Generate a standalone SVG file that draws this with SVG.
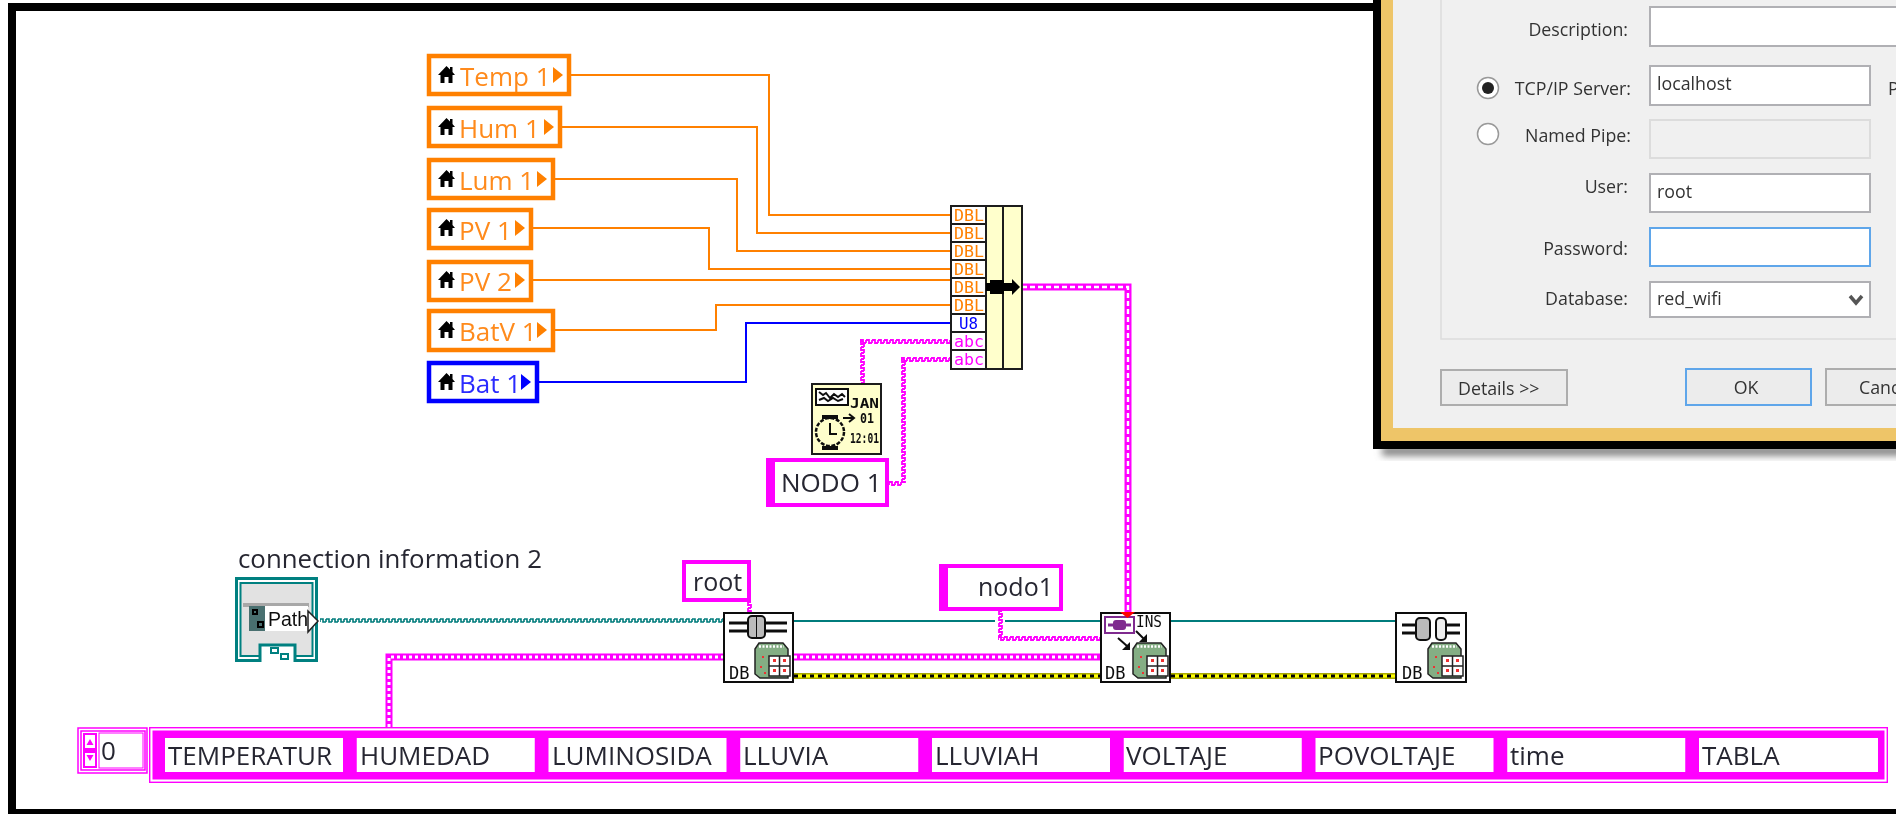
<svg xmlns="http://www.w3.org/2000/svg" width="1896" height="814" viewBox="0 0 1896 814">
<defs>
<style>
.t{font-family:"Open Sans","Noto Sans","Liberation Sans",sans-serif;fill:#262630}
.c{font-size:26px;fill:#ff8a1a}
.a{font-size:26px}
.d{font-family:"Open Sans","Noto Sans","Liberation Sans",sans-serif;font-size:17.8px;fill:#333}
.e{text-anchor:end}
.m{font-family:"DejaVu Sans Mono","Liberation Mono",monospace}
.db{font-size:17px;fill:#111}
.w{fill:none;stroke-linejoin:miter}
.o{stroke:#ff8000;stroke-width:2}
.b{stroke:#0000ff;stroke-width:2}
.tl{stroke:#007b7b;stroke-width:2}
.s2{stroke:#ff00ff;stroke-width:7}
.s2w{stroke:#fff;stroke-width:2.4;stroke-dasharray:5 3}
.s3w{stroke:#fff;stroke-width:3;stroke-dasharray:3 3}
.gb{fill:#fff;stroke:#b0b0b4;stroke-width:2}
.lc{fill:#ffffcc;stroke:#1a1a1a;stroke-width:2}
.ctrl{fill:#fff;stroke-width:4.5}
.ic{fill:#fff;stroke:#111;stroke-width:2}
.cell{fill:#fff}
.lg{fill:#ff8000}
</style>
<filter id="soft" filterUnits="userSpaceOnUse" x="0" y="0" width="1896" height="814"><feGaussianBlur stdDeviation="0.45"/></filter>
<filter id="shadow" x="-5%" y="-50%" width="110%" height="200%"><feGaussianBlur stdDeviation="3.5"/></filter>
<pattern id="wH" patternUnits="userSpaceOnUse" width="6" height="5"><path d="M0 4V1H3V4H6V1" fill="none" stroke="#ff00ff" stroke-width="1.8"/></pattern>
<pattern id="wV" patternUnits="userSpaceOnUse" width="5" height="6"><path d="M4 0H1V3H4V6H1" fill="none" stroke="#ff00ff" stroke-width="1.8"/></pattern>
<pattern id="tH" patternUnits="userSpaceOnUse" width="6" height="5"><path d="M0 4V1H3V4H6V1" fill="none" stroke="#007b7b" stroke-width="1.6"/></pattern>
<g id="house"><path d="M0 9 L8.500 0 L12 3.500 V1 H14.500 V6 L17 9 H14.500 V17 H10.500 V11 H6.500 V17 H2.500 V9 Z"/></g>
<g id="dbchip">
<path d="M1 6 L5 0 H29 L34 6 V35 H6 L1 31 Z" fill="#84ae84" stroke="#222" stroke-width="1.5"/>
<path d="M5 3.500 H30" stroke="#fff" stroke-width="2.500" stroke-dasharray="2 1.500"/>
<rect x="15" y="13" width="21" height="20" fill="#fff" stroke="#222" stroke-width="1.5"/>
<path d="M25.500 13 V33 M15 23 H36" stroke="#222" stroke-width="1.5"/>
<rect x="19" y="16" width="3" height="3" fill="#e33"/><rect x="29" y="16" width="3" height="3" fill="#e33"/>
<rect x="19" y="26" width="3" height="3" fill="#e33"/><rect x="29" y="26" width="3" height="3" fill="#e33"/>
<rect x="8" y="13" width="2" height="2" fill="#e33"/><rect x="6" y="23" width="2" height="2" fill="#e33"/><rect x="10" y="29" width="2" height="2" fill="#e33"/>
</g>
</defs>
<rect width="1896" height="814" fill="#fff"/>
<g filter="url(#soft)">
<g id="frame">
<rect x="8" y="3" width="1372" height="8" fill="#000"/>
<rect x="8" y="3" width="8" height="811" fill="#000"/>
<rect x="8" y="809" width="1888" height="5" fill="#000"/>
</g>
<g id="connectors">
<path class="w o" d="M571 75H769V215H951"/>
<path class="w o" d="M562 127H757V233H951"/>
<path class="w o" d="M555 179H737V251H951"/>
<path class="w o" d="M533 228H709V269H951"/>
<path class="w o" d="M533 280H951"/>
<path class="w o" d="M555 330H716V305H951"/>
<path class="w b" d="M539 382H746V323H951"/>
<rect transform="translate(860 339)" width="91" height="5" fill="url(#wH)"/>
<rect transform="translate(860 341)" width="5" height="42" fill="url(#wV)"/>
<rect transform="translate(901 357)" width="50" height="5" fill="url(#wH)"/>
<rect transform="translate(901 359)" width="5" height="124" fill="url(#wV)"/>
<rect transform="translate(889 481)" width="14" height="5" fill="url(#wH)"/>
<path class="w s2" d="M1022 287H1128V613"/><path class="w s2w" d="M1022 287H1128V613"/>
<rect transform="translate(320 618)" width="403" height="5" fill="url(#tH)"/>
<path class="w tl" d="M794 621H995M1005 621H1100M1171 621H1395"/>
<rect transform="translate(747 602)" width="5" height="10" fill="url(#wV)"/>
<rect transform="translate(998 611)" width="5" height="27" fill="url(#wV)"/>
<rect transform="translate(998 636)" width="102" height="5" fill="url(#wH)"/>
<path class="w s2" d="M389 727V657H723M794 657H1100"/><path class="w s3w" d="M389 727V657H723M794 657H1100"/>
<path d="M794 676H1100M1171 676H1395" fill="none" stroke="#a8a800" stroke-width="6"/>
<path d="M794 676H1100M1171 676H1395" fill="none" stroke="#ffff00" stroke-width="3"/>
<path d="M794 676H1100M1171 676H1395" fill="none" stroke="#000" stroke-width="3" stroke-dasharray="4 4"/>
</g>
<g id="temp1"><rect class="ctrl" x="429" y="56" width="140" height="38" stroke="#ff8000"/><use href="#house" x="438" y="66"/><text class="t c" x="460" y="86">Temp 1</text><path class="lg" d="M553 67l10 8-10 8z"/></g>
<g id="hum1"><rect class="ctrl" x="429" y="108" width="131" height="38" stroke="#ff8000"/><use href="#house" x="438" y="118"/><text class="t c" x="459" y="138">Hum 1</text><path class="lg" d="M544 119l10 8-10 8z"/></g>
<g id="lum1"><rect class="ctrl" x="429" y="160" width="124" height="38" stroke="#ff8000"/><use href="#house" x="438" y="170"/><text class="t c" x="459" y="190">Lum 1</text><path class="lg" d="M537 171l10 8-10 8z"/></g>
<g id="pv1"><rect class="ctrl" x="429" y="210" width="102" height="38" stroke="#ff8000"/><use href="#house" x="438" y="219"/><text class="t c" x="459" y="240">PV 1</text><path class="lg" d="M515 220l10 8-10 8z"/></g>
<g id="pv2"><rect class="ctrl" x="429" y="262" width="102" height="38" stroke="#ff8000"/><use href="#house" x="438" y="271"/><text class="t c" x="459" y="291">PV 2</text><path class="lg" d="M515 272l10 8-10 8z"/></g>
<g id="batv1"><rect class="ctrl" x="429" y="311" width="124" height="39" stroke="#ff8000"/><use href="#house" x="438" y="321"/><text class="t c" x="459" y="341">BatV 1</text><path class="lg" d="M537 322l10 8-10 8z"/></g>
<g id="bat1"><rect class="ctrl" x="429" y="363" width="108" height="38" stroke="#0000ff"/><use href="#house" x="438" y="373"/><text class="t c" x="459" y="393" style="fill:#2b2bff">Bat 1</text><path d="M521 374l10 8-10 8z" fill="#0000ff"/></g>
<g id="bundle">
<rect x="951" y="206" width="71" height="163" fill="#ffffcc" stroke="#1a1a1a" stroke-width="2"/>
<rect x="951" y="206" width="35" height="163" fill="#fff" stroke="#1a1a1a" stroke-width="2"/>
<path d="M1003 206V369M951 224H986M951 242H986M951 260H986M951 278H986M951 296H986M951 314H986M951 332H986M951 350H986" stroke="#1a1a1a" stroke-width="2" fill="none"/>
<g class="m" font-size="16" fill="#ff8000" text-anchor="start">
<text x="954" y="221" textLength="30" lengthAdjust="spacingAndGlyphs">DBL</text><text x="954" y="239" textLength="30" lengthAdjust="spacingAndGlyphs">DBL</text><text x="954" y="257" textLength="30" lengthAdjust="spacingAndGlyphs">DBL</text><text x="954" y="275" textLength="30" lengthAdjust="spacingAndGlyphs">DBL</text><text x="954" y="293" textLength="30" lengthAdjust="spacingAndGlyphs">DBL</text><text x="954" y="311" textLength="30" lengthAdjust="spacingAndGlyphs">DBL</text>
<text x="959" y="329" fill="#0000ff" textLength="19" lengthAdjust="spacingAndGlyphs">U8</text><text x="954" y="347" fill="#ff00ff" textLength="30" lengthAdjust="spacingAndGlyphs">abc</text><text x="954" y="365" fill="#ff00ff" textLength="30" lengthAdjust="spacingAndGlyphs">abc</text>
</g>
<path d="M986 283H990V280H1004V283H1012V279L1020 287L1012 295V291H1004V294H990V291H986Z" fill="#000"/>
</g>
<g id="clock">
<rect class="lc" x="812" y="384" width="69" height="70"/>
<rect x="816" y="389" width="32" height="16" fill="#fff" stroke="#111" stroke-width="2"/>
<path d="M819 392l4 3 3-2 4 5 4-4 4 3 4-3 3 3M819 400l5-2 4 3 5-3 5 3 5-2" stroke="#111" stroke-width="2" fill="none"/>
<circle cx="830" cy="432" r="14" fill="#ffffcc" stroke="#111" stroke-width="2.5" stroke-dasharray="4 1.500"/>
<rect x="822" y="415" width="16" height="4" fill="#111"/><rect x="822" y="446" width="16" height="4" fill="#111"/>
<path d="M830 423V434H837" stroke="#111" stroke-width="2" fill="none"/>
<path d="M843 418H853M849 414L854 418L849 422" stroke="#111" stroke-width="2" fill="none"/>
<g class="m" fill="#111" font-size="14" font-weight="700"><text x="850" y="408" textLength="29" lengthAdjust="spacingAndGlyphs">JAN</text><text x="860" y="423" textLength="14" lengthAdjust="spacingAndGlyphs">01</text><text x="850" y="443" textLength="29" lengthAdjust="spacingAndGlyphs">12:01</text></g>
</g>
<g id="nodo1const"><rect x="769" y="460" width="118" height="45" fill="#fff" stroke="#ff00ff" stroke-width="4"/><rect x="766" y="458" width="9" height="49" fill="#ff00ff"/><text class="t" x="781" y="492" font-size="26">NODO 1</text></g>
<g id="conninfo">
<text class="t" x="238" y="568" font-size="25.8">connection information 2</text>
<rect x="236.500" y="578.500" width="80" height="82" fill="#fff" stroke="#008080" stroke-width="3"/>
<rect x="240.500" y="583" width="72" height="73" fill="#e2e2e2" stroke="#008080" stroke-width="2"/>
<rect x="243" y="603" width="66" height="4" fill="#a8a8a8"/>
<rect x="249" y="606" width="16" height="25" fill="#4a6f6f"/>
<rect x="265" y="606" width="43" height="25" fill="#fff"/>
<path d="M253 610h4v4h-4zM258 622h5v5h-5z" fill="none" stroke="#000" stroke-width="2"/>
<text x="268" y="626" font-size="19.500" fill="#111" style="font-family:'Liberation Sans',sans-serif">Path</text>
<path d="M308 611L318 621L308 632Z" fill="#fff" stroke="#222" stroke-width="1.500"/>
<path d="M260 662V645H295V662" fill="#fff" stroke="#008080" stroke-width="3"/>
<rect x="271" y="648" width="7" height="5" fill="#fff" stroke="#008080" stroke-width="2"/><rect x="281" y="654" width="7" height="5" fill="#fff" stroke="#008080" stroke-width="2"/>
</g>
<g id="root"><rect x="684" y="562" width="65" height="38" fill="#fff" stroke="#ff00ff" stroke-width="4"/><text class="t" x="693" y="591" font-size="25">root</text></g>
<g id="open">
<rect class="ic" x="724" y="613" width="69" height="69"/>
<path d="M729 623H787M729 631H787" stroke="#111" stroke-width="3"/>
<rect x="748" y="616" width="17" height="22" rx="4" fill="#bbb" stroke="#111" stroke-width="2"/><path d="M756.500 616V638" stroke="#111"/>
<use href="#dbchip" x="754" y="643"/>
<text class="m db" x="729" y="679">DB</text>
</g>
<g id="nodo1"><rect x="941" y="566" width="120" height="43" fill="#fff" stroke="#ff00ff" stroke-width="4"/><rect x="939" y="564" width="9" height="47" fill="#ff00ff"/><text class="t" x="978" y="596" font-size="25">nodo1</text></g>
<g id="insert">
<rect class="ic" x="1101" y="613" width="69" height="69"/>
<rect x="1105" y="617" width="29" height="16" fill="#fff" stroke="#7f2a8f" stroke-width="2"/>
<path d="M1108 625H1131" stroke="#7f2a8f" stroke-width="3"/><rect x="1113" y="620" width="13" height="10" rx="3" fill="#7f2a8f"/>
<path d="M1120 612H1135L1127.500 618Z" fill="#ff0000"/>
<text class="m" x="1136" y="627" font-size="15" fill="#111" textLength="26" lengthAdjust="spacingAndGlyphs">INS</text>
<path d="M1118 638L1127 646M1136 631L1144 639" stroke="#111" stroke-width="2" fill="none"/>
<path d="M1130 642V650H1122ZM1147 634V642H1139Z" fill="#111"/>
<use href="#dbchip" x="1132" y="643"/>
<text class="m db" x="1105" y="679">DB</text>
</g>
<g id="close">
<rect class="ic" x="1396" y="613" width="70" height="69"/>
<path d="M1402 625H1418M1402 633H1418M1444 625H1460M1444 633H1460" stroke="#111" stroke-width="3"/>
<rect x="1416" y="618" width="14" height="22" rx="4" fill="#bbb" stroke="#111" stroke-width="2"/><rect x="1436" y="618" width="10" height="22" rx="4" fill="#eee" stroke="#111" stroke-width="2"/>
<use href="#dbchip" x="1427" y="643"/>
<text class="m db" x="1402" y="679">DB</text>
</g>
<g id="index">
<rect x="78" y="728" width="69" height="45" fill="#fff" stroke="#ff00ff" stroke-width="1.500"/>
<rect x="81" y="731" width="64" height="39" fill="#fff" stroke="#ff00ff" stroke-width="1.500"/>
<rect x="83" y="733" width="14" height="35" fill="#ff00ff"/>
<rect x="85" y="735" width="10" height="13" fill="#fff"/><rect x="85" y="753" width="10" height="13" fill="#fff"/>
<path d="M86.500 745l3.500-6 3.500 6zM86.500 755l3.500 6 3.500-6z" fill="#ff00ff"/>
<rect x="99" y="733" width="44" height="35" fill="#fff" stroke="#ff00ff"/>
<text class="t" x="101" y="760" font-size="26">0</text>
</g>
<g id="array">
<rect x="149.700" y="727.700" width="1737.600" height="54.600" fill="#fff" stroke="#ff00ff" stroke-width="1.400"/>
<rect x="152.500" y="730.500" width="1732" height="49" fill="#ff00ff"/>
<rect class="cell" x="165" y="738" width="178" height="34"/><text class="t a" x="168" y="765">TEMPERATUR</text>
<rect class="cell" x="356.750" y="738" width="178" height="34"/><text class="t a" x="360" y="765">HUMEDAD</text>
<rect class="cell" x="548.500" y="738" width="178" height="34"/><text class="t a" x="552" y="765">LUMINOSIDA</text>
<rect class="cell" x="740.250" y="738" width="178" height="34"/><text class="t a" x="743" y="765">LLUVIA</text>
<rect class="cell" x="932" y="738" width="178" height="34"/><text class="t a" x="935" y="765">LLUVIAH</text>
<rect class="cell" x="1123.750" y="738" width="178" height="34"/><text class="t a" x="1126" y="765">VOLTAJE</text>
<rect class="cell" x="1315.500" y="738" width="178" height="34"/><text class="t a" x="1318" y="765">POVOLTAJE</text>
<rect class="cell" x="1507.250" y="738" width="178" height="34"/><text class="t a" x="1510" y="765">time</text>
<rect class="cell" x="1699" y="738" width="179" height="34"/><text class="t a" x="1702" y="765">TABLA</text>
</g>
<g id="dialog">
<rect x="1382" y="446" width="530" height="10" fill="#888" filter="url(#shadow)"/>
<rect x="1373" y="0" width="523" height="449" fill="#000"/>
<rect x="1381" y="0" width="515" height="441" fill="#eec568"/>
<rect x="1393" y="0" width="503" height="428" fill="#f0f0f0"/>
<path d="M1441 0V339H1896" fill="none" stroke="#dcdcdc" stroke-width="1.5"/>
<rect class="gb" x="1650" y="7" width="250" height="39"/>
<text class="d e" x="1628" y="36">Description:</text>
<circle cx="1488" cy="88" r="10.500" fill="#fff" stroke="#999" stroke-width="1.500"/><circle cx="1488" cy="88" r="6" fill="#222"/>
<text class="d e" x="1631" y="95">TCP/IP Server:</text>
<rect class="gb" x="1650" y="66" width="220" height="39"/><text class="d" x="1657" y="90">localhost</text>
<text class="d" x="1888" y="95">P</text>
<circle cx="1488" cy="134" r="10.500" fill="#fff" stroke="#999" stroke-width="1.500"/>
<text class="d e" x="1631" y="142">Named Pipe:</text>
<rect x="1650" y="120" width="220" height="38" fill="#f0f0f0" stroke="#dcdcdc" stroke-width="2"/>
<text class="d e" x="1628" y="193">User:</text>
<rect class="gb" x="1650" y="174" width="220" height="38"/><text class="d" x="1657" y="198">root</text>
<text class="d e" x="1628" y="255">Password:</text>
<rect x="1650" y="228" width="220" height="38" fill="#fff" stroke="#5ea6ea" stroke-width="2"/>
<text class="d e" x="1628" y="305">Database:</text>
<rect class="gb" x="1650" y="282" width="220" height="35"/><text class="d" x="1657" y="305">red_wifi</text>
<path d="M1850 296L1856 303L1862 296" fill="none" stroke="#555" stroke-width="3.500"/>
<rect x="1441" y="370" width="126" height="35" fill="#ececec" stroke="#adadad" stroke-width="2"/><text class="d" x="1458" y="395">Details &gt;&gt;</text>
<rect x="1686" y="369" width="125" height="36" fill="#ececec" stroke="#5ea6ea" stroke-width="2"/><text class="d" x="1746" y="394" text-anchor="middle">OK</text>
<rect x="1826" y="369" width="80" height="36" fill="#ececec" stroke="#adadad" stroke-width="2"/><text class="d" x="1859" y="394">Canc</text>
</g>
</g>
</svg>
